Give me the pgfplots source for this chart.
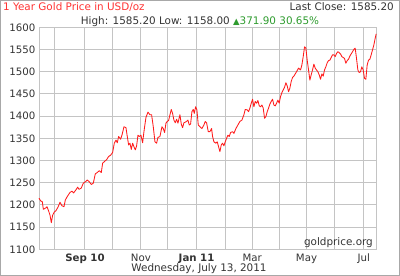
\documentclass[border=0pt]{standalone}
\usepackage{pgfplots}
\pgfplotsset{compat=1.18}
\usepackage{fontspec}
\setmainfont{DejaVu Sans}
\definecolor{gridc}{HTML}{C4C4C4}
\definecolor{framec}{HTML}{A8A8A8}
\definecolor{txt}{HTML}{333333}
\definecolor{titlered}{HTML}{FF3333}
\definecolor{upgreen}{HTML}{2E9B2E}
\definecolor{linered}{HTML}{FF1A1A}
\begin{document}
\fontsize{10.4bp}{12bp}\selectfont
\begin{tikzpicture}[x=1bp,y=1bp]
\useasboundingbox (0,0) rectangle (400,276);
\draw[color=framec, line width=1bp] (0.5,0.5) rectangle (399.5,275.5);
\begin{axis}[at={(39bp,26.7bp)}, anchor=south west, scale only axis,
  width=337.5bp, height=222bp,
  xmin=117, xmax=1130, ymin=1100, ymax=1600,
  xtick={165,255,338,423,503,590,677,757,838,920,1005,1092},
  xticklabels={,\textbf{Sep 10},,Nov,,\textbf{Jan 11},,Mar,,May,,Jul},
  ytick={1100,1150,...,1600},
  grid=major, major grid style={gridc, line width=1bp},
  axis line style={gridc, line width=1bp},
  major tick length=0pt, tick align=inside,
  tick label style={font=\fontsize{10.2bp}{12bp}\selectfont, text=txt},
  /pgf/number format/assume math mode=true,
  /pgf/number format/1000 sep={},
  yticklabel style={inner sep=0pt, anchor=east, xshift=-3.5bp},
  xticklabel style={inner sep=0pt, anchor=base, yshift=-12.4bp},
  clip=false,
]
\addplot[linered, line width=0.85bp, line join=round, mark=none] coordinates {
(117,1215)(122,1209)(127,1207)(130,1190)(137,1193)(141,1196)(146,1186)(150,1177)
(154,1160)(158,1177)(163,1184)(168,1187)(174,1195)(180,1206)(186,1198)(192,1196)
(196,1211)(202,1219)(210,1228)(216,1231)(221,1227)(228,1234)(233,1240)(237,1235)
(244,1238)(250,1249)(256,1252)(262,1256)(268,1252)(274,1246)(280,1249)(286,1270)
(292,1273)(298,1277)(304,1273)(308,1294)(314,1298)(320,1302)(326,1309)(332,1312)
(338,1318)(343,1339)(348,1346)(352,1340)(356,1354)(362,1348)(366,1357)(372,1376)
(378,1374)(382,1354)(386,1335)(390,1339)(394,1325)(398,1339)(402,1331)(406,1324)
(410,1333)(414,1357)(418,1354)(423,1357)(428,1340)(432,1365)(438,1397)(444,1409)
(450,1403)(455,1403)(460,1376)(465,1342)(470,1339)(474,1352)(480,1354)(486,1376)
(490,1372)(494,1363)(498,1384)(502,1388)(506,1390)(510,1403)(514,1415)(518,1406)
(522,1391)(526,1385)(530,1393)(534,1384)(540,1403)(544,1382)(548,1374)(552,1385)
(558,1387)(564,1391)(568,1380)(572,1382)(576,1410)(580,1415)(583,1406)(587,1421)
(591,1414)(595,1380)(600,1376)(606,1372)(612,1380)(616,1388)(620,1385)(625,1365)
(630,1365)(635,1372)(638,1354)(642,1342)(648,1339)(652,1342)(656,1331)(660,1320)
(664,1335)(668,1339)(672,1333)(676,1342)(680,1350)(684,1357)(688,1354)(692,1363)
(698,1365)(702,1361)(708,1372)(714,1380)(720,1388)(726,1391)(732,1403)(736,1415)
(742,1414)(746,1410)(750,1418)(754,1429)(758,1438)(762,1421)(766,1433)(770,1429)
(774,1435)(778,1423)(782,1421)(786,1425)(790,1418)(794,1395)(798,1399)(802,1410)
(806,1418)(810,1427)(814,1433)(818,1438)(822,1425)(826,1423)(830,1429)(834,1436)
(838,1429)(842,1444)(846,1453)(850,1459)(854,1465)(858,1475)(862,1468)(866,1455)
(870,1463)(874,1478)(878,1487)(882,1490)(886,1495)(890,1500)(896,1508)(902,1504)
(906,1515)(910,1534)(914,1556)(918,1553)(922,1526)(926,1504)(930,1481)(934,1493)
(938,1504)(942,1517)(946,1508)(950,1504)(954,1500)(958,1493)(962,1483)(966,1495)
(970,1490)(974,1504)(978,1511)(982,1520)(986,1525)(990,1526)(994,1532)(998,1538)
(1002,1538)(1006,1534)(1010,1541)(1014,1545)(1018,1543)(1022,1540)(1026,1534)(1030,1532)
(1034,1530)(1038,1519)(1042,1525)(1046,1528)(1050,1535)(1054,1540)(1058,1545)(1062,1550)
(1066,1553)(1070,1530)(1074,1504)(1078,1498)(1082,1500)(1086,1511)(1090,1504)(1094,1485)
(1098,1483)(1102,1515)(1106,1526)(1110,1528)(1114,1538)(1118,1549)(1122,1560)(1126,1575)
(1129,1585.2)
};
\end{axis}
\node[anchor=base east, inner sep=0, text=txt] at (373,31) {goldprice.org};
\node[anchor=base west, inner sep=0, text=titlered] at (3,266) {1 Year Gold Price in USD/oz};
\node[anchor=base east, inner sep=0, text=txt] at (394,266) {Last Close: 1585.20};
\node[anchor=base, inner sep=0] at (200,252) {\textcolor{txt}{High: 1585.20 Low: 1158.00} \textcolor{upgreen}{{\fontsize{8.5bp}{9bp}\selectfont ▲}371.90 30.65\%}};
\node[anchor=base, inner sep=0, text=txt] at (199,4.3) {Wednesday, July 13, 2011};
\end{tikzpicture}
\end{document}
